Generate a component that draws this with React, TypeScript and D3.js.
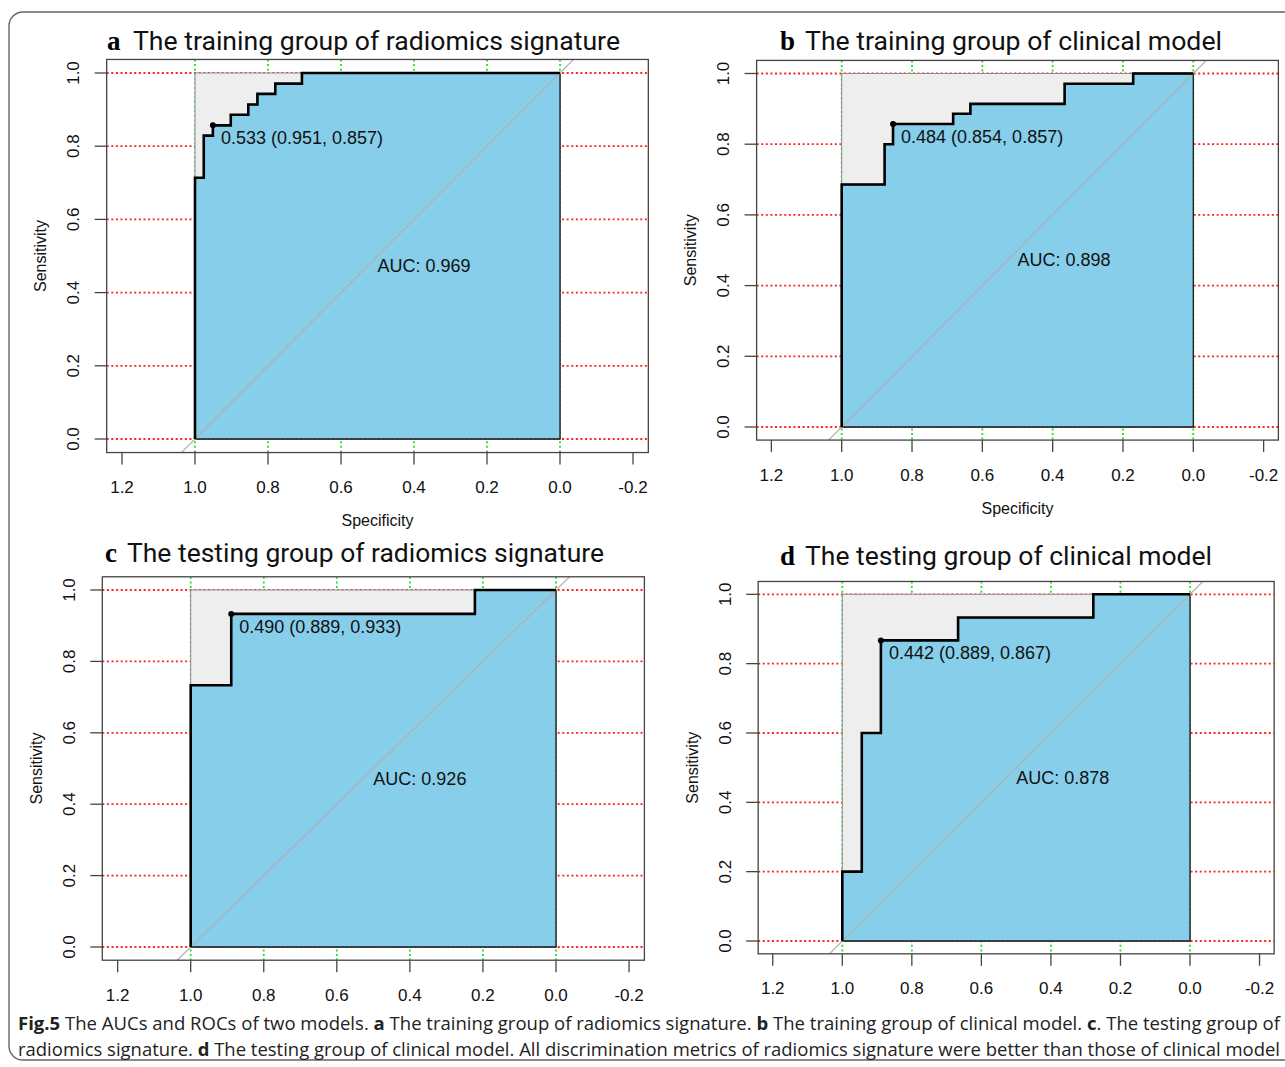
import React from "react";
import * as d3 from "d3";

// axis ticks
const xTicks = [1.2, 1.0, 0.8, 0.6, 0.4, 0.2, 0.0, -0.2];
const yTicks = [0, 0.2, 0.4, 0.6, 0.8, 1.0];
const gridX = [1.0, 0.8, 0.6, 0.4, 0.2, 0.0];

// panel texts and summary values
const letters = ["a", "b", "c", "d"];
const titles = [
  "The training group of radiomics signature",
  "The training group of clinical model",
  "The testing group of radiomics signature",
  "The testing group of clinical model",
];
const aucValues = [0.969, 0.898, 0.926, 0.878];
const thresholds = [0.533, 0.484, 0.49, 0.442];
const bestSpec = [0.951, 0.854, 0.889, 0.889];
const bestSens = [0.857, 0.857, 0.933, 0.867];

// ROC step vertices (specificity, sensitivity)
const specA = [1, 1, 0.976, 0.976, 0.951, 0.951, 0.902, 0.902, 0.854, 0.854, 0.829, 0.829, 0.78, 0.78, 0.707, 0.707, 0];
const sensA = [0, 0.714, 0.714, 0.829, 0.829, 0.857, 0.857, 0.886, 0.886, 0.914, 0.914, 0.943, 0.943, 0.971, 0.971, 1, 1];
const specB = [1, 1, 0.878, 0.878, 0.854, 0.854, 0.683, 0.683, 0.634, 0.634, 0.366, 0.366, 0.171, 0.171, 0];
const sensB = [0, 0.686, 0.686, 0.8, 0.8, 0.857, 0.857, 0.886, 0.886, 0.914, 0.914, 0.971, 0.971, 1, 1];
const specC = [1, 1, 0.889, 0.889, 0.222, 0.222, 0];
const sensC = [0, 0.733, 0.733, 0.933, 0.933, 1, 1];
const specD = [1, 1, 0.944, 0.944, 0.889, 0.889, 0.667, 0.667, 0.278, 0.278, 0];
const sensD = [0, 0.2, 0.2, 0.6, 0.6, 0.867, 0.867, 0.933, 0.933, 1, 1];

const specs = [specA, specB, specC, specD];
const senss = [sensA, sensB, sensC, sensD];

// layout per panel: pixel positions of spec=1 / spec=0 and sens=1 / sens=0
const layout = [
  { x1: 195, x0: 560, y1: 73, y0: 439, letterX: 107, textX: 133, titleY: 50, titleLen: 487, specLabel: true },
  { x1: 841.7, x0: 1193.3, y1: 73.5, y0: 427, letterX: 780, textX: 805, titleY: 50, titleLen: 417, specLabel: true },
  { x1: 190.7, x0: 556, y1: 590, y0: 947, letterX: 105, textX: 127, titleY: 562, titleLen: 477, specLabel: false },
  { x1: 842.3, x0: 1190, y1: 594.3, y0: 941, letterX: 780, textX: 805, titleY: 565, titleLen: 407, specLabel: false },
];

const axisFont = "'Liberation Sans', Arial, sans-serif";
const titleFont = "Roboto, 'Noto Sans', sans-serif";

function Panel({ i }: { i: number }) {
  const L = layout[i];
  const x = d3.scaleLinear().domain([1, 0]).range([L.x1, L.x0]);
  const y = d3.scaleLinear().domain([0, 1]).range([L.y0, L.y1]);
  const bx0 = x(1.242);
  const bx1 = x(-0.242);
  const by0 = y(1.037);
  const by1 = y(-0.037);
  const pts: [number, number][] = specs[i].map((s, k) => [s, senss[i][k]]);
  const line = d3.line<[number, number]>().x((d) => x(d[0])).y((d) => y(d[1]));
  const aucPoly = line([...pts, [0, 0], [1, 0]]) + "Z";
  const square = line([[1, 0], [1, 1], [0, 1], [0, 0]]) + "Z";
  const clipId = `clip${i}`;
  const fmt = d3.format(".3f");
  const midY = (y(0) + y(1)) / 2;
  const midX = (bx0 + bx1) / 2;
  return (
    <g>
      <defs>
        <clipPath id={clipId}>
          <rect x={bx0} y={by0} width={bx1 - bx0} height={by1 - by0} />
        </clipPath>
      </defs>
      {/* title */}
      <text x={L.letterX} y={L.titleY} fontFamily="'Liberation Serif', 'Times New Roman', serif" fontWeight="bold" fontSize={27}>
        {letters[i]}
      </text>
      <text x={L.textX} y={L.titleY} fontFamily={titleFont} fontSize={26} textLength={L.titleLen} lengthAdjust="spacingAndGlyphs" fill="#111">
        {titles[i]}
      </text>
      <g clipPath={`url(#${clipId})`}>
        {yTicks.map((t) => (
          <line key={"r" + t} x1={bx0} x2={bx1} y1={y(t)} y2={y(t)} stroke="#ff2020" strokeWidth={1.8} strokeDasharray="2,2.6" />
        ))}
        {gridX.map((t) => (
          <line key={"g" + t} x1={x(t)} x2={x(t)} y1={by0} y2={by1} stroke="#22e022" strokeWidth={1.8} strokeDasharray="2,2.6" />
        ))}
        <path d={square} fill="#eeeeee" stroke="#8a8a8a" strokeWidth={1} />
        <path d={aucPoly} fill="#87ceeb" stroke="#1a1a1a" strokeWidth={1.3} />
        <line x1={x(1.3)} y1={y(-0.3)} x2={x(-0.3)} y2={y(1.3)} stroke="#b0b0b0" strokeWidth={1.2} />
        <path d={line(pts) || ""} fill="none" stroke="#000" strokeWidth={2.6} strokeLinejoin="miter" />
      </g>
      <rect x={bx0} y={by0} width={bx1 - bx0} height={by1 - by0} fill="none" stroke="#444" strokeWidth={1.3} />
      <circle cx={x(bestSpec[i])} cy={y(bestSens[i])} r={3} fill="#000" />
      <text x={x(bestSpec[i]) + 8} y={y(bestSens[i]) + 13} fontFamily={axisFont} fontSize={18} dominantBaseline="central" fill="#111">
        {`${fmt(thresholds[i])} (${fmt(bestSpec[i])}, ${fmt(bestSens[i])})`}
      </text>
      <text x={x(0.5)} y={y(0.5) + 10} fontFamily={axisFont} fontSize={18} dominantBaseline="central" fill="#111">
        {`AUC: ${fmt(aucValues[i])}`}
      </text>
      {/* y axis */}
      {yTicks.map((t) => (
        <g key={"yt" + t}>
          <line x1={bx0 - 12} x2={bx0} y1={y(t)} y2={y(t)} stroke="#444" strokeWidth={1.3} />
          <text
            transform={`translate(${bx0 - 33},${y(t)}) rotate(-90)`}
            textAnchor="middle"
            dominantBaseline="central"
            fontFamily={axisFont}
            fontSize={17}
            fill="#111"
          >
            {t.toFixed(1)}
          </text>
        </g>
      ))}
      <text
        transform={`translate(${bx0 - 66},${midY}) rotate(-90)`}
        textAnchor="middle"
        dominantBaseline="central"
        fontFamily={axisFont}
        fontSize={16}
        fill="#111"
      >
        Sensitivity
      </text>
      {/* x axis */}
      {xTicks.map((t) => (
        <g key={"xt" + t}>
          <line x1={x(t)} x2={x(t)} y1={by1} y2={by1 + 12} stroke="#444" strokeWidth={1.3} />
          <text x={x(t)} y={by1 + 35} textAnchor="middle" dominantBaseline="central" fontFamily={axisFont} fontSize={17} fill="#111">
            {t.toFixed(1)}
          </text>
        </g>
      ))}
      {L.specLabel && (
        <text x={midX} y={by1 + 68} textAnchor="middle" dominantBaseline="central" fontFamily={axisFont} fontSize={16} fill="#111">
          Specificity
        </text>
      )}
    </g>
  );
}

export default function App() {
  const capFont = "'Open Sans', 'Noto Sans', sans-serif";
  return (
    <svg width={1285} height={1067} style={{ position: "absolute", left: 0, top: 0, background: "#fff" }}>
      <rect x={9} y={12} width={1320} height={1048} rx={14} fill="#fff" stroke="#666" strokeWidth={1.4} />
      {[0, 1, 2, 3].map((i) => (
        <Panel key={i} i={i} />
      ))}
      <text x={18} y={1030} fontFamily={capFont} fontSize={18.5} textLength={1262} lengthAdjust="spacingAndGlyphs" fill="#222">
        <tspan fontWeight="bold">Fig.5</tspan>
        {"  The AUCs and ROCs of two models. "}
        <tspan fontWeight="bold">a</tspan>
        {" The training group of radiomics signature. "}
        <tspan fontWeight="bold">b</tspan>
        {" The training group of clinical model. "}
        <tspan fontWeight="bold">c</tspan>
        {". The testing group of"}
      </text>
      <text x={18} y={1056} fontFamily={capFont} fontSize={18.5} textLength={1262} lengthAdjust="spacingAndGlyphs" fill="#222">
        {"radiomics signature. "}
        <tspan fontWeight="bold">d</tspan>
        {" The testing group of clinical model. All discrimination metrics of radiomics signature were better than those of clinical model"}
      </text>
    </svg>
  );
}
